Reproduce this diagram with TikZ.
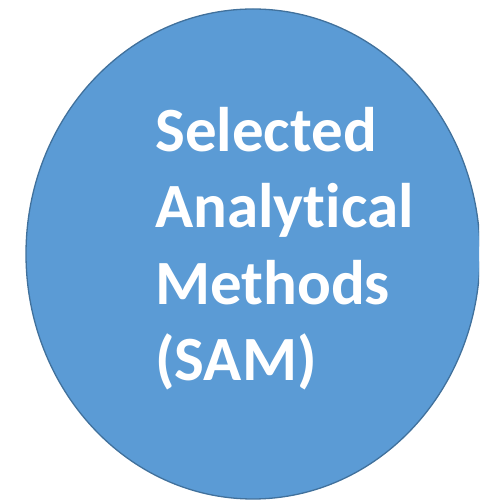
\documentclass[tikz,border=0pt]{standalone}
\usepackage{fontspec}
\setmainfont[Ligatures=NoCommon]{Carlito}
\usepackage{tikz}

\definecolor{samfill}{HTML}{5B9BD5}
\definecolor{samline}{HTML}{41719C}

\begin{document}
\begin{tikzpicture}[x=1pt,y=1pt,
	samtext/.style={text=white, font=\fontsize{63}{76.5}\selectfont\bfseries, align=left, inner sep=0pt}]
	% Fix the frame
	\useasboundingbox (0,0) rectangle (479,500);
	\clip (0,0) rectangle (479,500);

	% Draw circle
	\draw[fill=samfill, draw=samline, line width=1.3pt] (253,246) ellipse [x radius=227, y radius=245];

	% Add label
	\node[samtext, anchor=base west] (sam) at (155,119) {Selected\\Analytical\\Methods\\(SAM)};
\end{tikzpicture}
\end{document}
